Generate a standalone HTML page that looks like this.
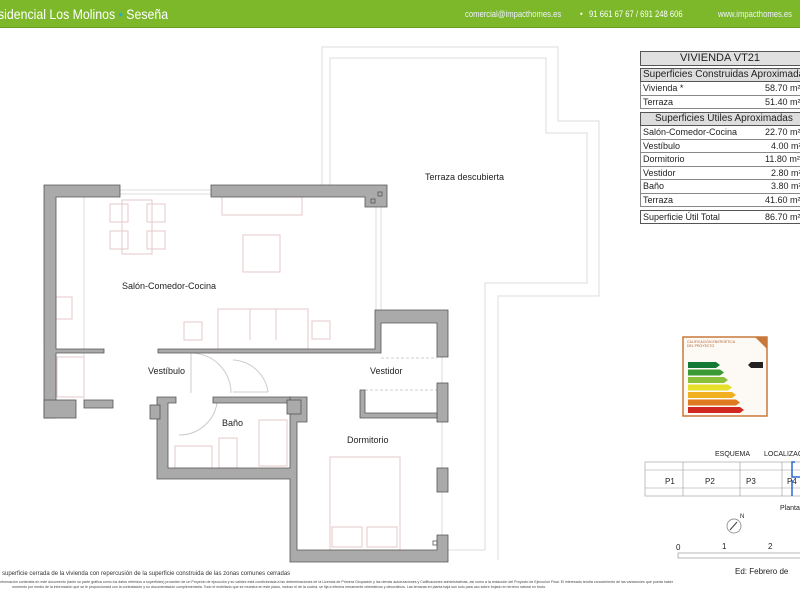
<!DOCTYPE html>
<html><head><meta charset="utf-8"><style>
body{margin:0;width:800px;height:600px;overflow:hidden;background:#fff;font-family:"Liberation Sans",sans-serif;position:relative}
.t{position:absolute;font-size:9px;color:#222;white-space:nowrap}
.r{height:12.5px;border:1px solid #888;border-top:0;line-height:12px;padding:0 2px;position:relative;white-space:nowrap;overflow:hidden}
.r span{position:absolute;left:124px}
.r span.s{left:130px}
</style></head><body>
<div style="position:absolute;left:0;top:0;width:800px;height:27px;background:#7cb82a;border-bottom:1px solid #6aa020"></div>
<div class="t" style="left:-2px;top:6px;font-size:14px;color:#fff;transform:scaleX(0.88);transform-origin:0 0">sidencial Los Molinos <span style="color:#2aa8e0">•</span> Seseña</div>
<div class="t" style="left:465px;top:9px;font-size:9px;color:#eef;transform:scaleX(0.85);transform-origin:0 0">comercial@impacthomes.es</div>
<div class="t" style="left:580px;top:9px;font-size:9px;color:#fff;transform:scaleX(0.85);transform-origin:0 0">•&nbsp;&nbsp; 91 661 67 67 / 691 248 606</div>
<div class="t" style="left:718px;top:9px;font-size:9px;color:#eef;transform:scaleX(0.85);transform-origin:0 0">www.impacthomes.es</div>

<svg width="800" height="600" style="position:absolute;left:0;top:0">
<g fill="none" stroke="#ddd" stroke-width="1">
<polyline points="322,185 322,47 558,47 558,121 599,121 599,296 498,296 498,560"/>
<polyline points="330,185 330,58 546,58 546,133 587,133 587,283 485,283 485,550 448,550"/>
<line x1="376" y1="207" x2="376" y2="310"/><line x1="381" y1="207" x2="381" y2="310"/>
<line x1="442" y1="357" x2="442" y2="535"/>
<line x1="120" y1="190" x2="211" y2="190"/><line x1="120" y1="194" x2="211" y2="194"/>
<line x1="84" y1="197" x2="84" y2="400"/>
</g>
<g fill="none" stroke="#e6caca" stroke-width="1">
<rect x="222" y="197" width="80" height="18"/>
<rect x="122" y="200" width="30" height="54"/>
<rect x="110" y="204" width="18" height="18"/><rect x="147" y="204" width="18" height="18"/>
<rect x="110" y="231" width="18" height="18"/><rect x="147" y="231" width="18" height="18"/>
<rect x="243" y="235" width="37" height="37"/>
<rect x="218" y="309" width="90" height="40"/>
<line x1="250" y1="309" x2="250" y2="340"/><line x1="276" y1="309" x2="276" y2="340"/>
<rect x="184" y="322" width="18" height="18"/><rect x="312" y="321" width="18" height="18"/>
<rect x="56" y="297" width="16" height="22"/>
<rect x="57" y="357" width="27" height="40"/>
<rect x="175" y="446" width="37" height="22"/>
<rect x="219" y="438" width="18" height="30"/>
<rect x="259" y="420" width="28" height="46"/>
<rect x="330" y="457" width="70" height="93"/>
<rect x="332" y="527" width="30" height="20"/><rect x="367" y="527" width="30" height="20"/>
</g>
<g fill="none" stroke="#ccc" stroke-width="1">
<path d="M191 353 A40 40 0 0 1 231 393"/><line x1="191" y1="353" x2="191" y2="393"/>
<path d="M217 403 A38 38 0 0 1 179 435"/>
<path d="M233 360 A37 37 0 0 1 268 392"/><line x1="233" y1="392" x2="268" y2="392"/>
<line x1="381" y1="358" x2="437" y2="358" stroke-dasharray="3,2"/>
<line x1="365" y1="390" x2="437" y2="390" stroke-dasharray="3,2"/>
</g>
<g fill="#aaa" stroke="#555" stroke-width="0.8">
<path d="M44 185 H120 V197 H56 V349 H104 V353 H56 V418 H44 Z"/>
<path d="M211 185 H387 V207 H365 V197 H211 Z"/>
<path d="M375 310 H448 V357 H437 V323 H381 V353 H158 V349 H375 Z"/>
<rect x="44" y="400" width="32" height="18"/>
<path d="M84 400 H113 V408 H84 Z"/>
<path d="M157 397 H176 V403 H168 V468 H290 V397 H307 V422 H297 V550 H437 V535 H448 V562 H290 V479 H157 Z"/>
<path d="M213 397 H290 V403 H213 Z"/>
<rect x="437" y="383" width="11" height="39"/>
<rect x="437" y="468" width="11" height="24"/>
<path d="M360 390 H365 V413 H437 V418 H360 Z"/>
<rect x="287" y="400" width="14" height="14"/>
<rect x="150" y="405" width="10" height="14"/>
</g>
<g fill="none" stroke="#555" stroke-width="0.8"><rect x="371" y="199" width="4" height="4"/><rect x="378" y="192" width="4" height="4"/><rect x="433" y="541" width="4" height="4"/></g>
</svg>

<div class="t" style="left:425px;top:172px">Terraza descubierta</div>
<div class="t" style="left:122px;top:281px">Salón-Comedor-Cocina</div>
<div class="t" style="left:148px;top:366px">Vestíbulo</div>
<div class="t" style="left:370px;top:366px">Vestidor</div>
<div class="t" style="left:222px;top:418px">Baño</div>
<div class="t" style="left:347px;top:435px">Dormitorio</div>

<div style="position:absolute;left:640px;top:51px;width:170px;font-size:9px;color:#222">
<div style="height:13px;background:#e0e0e0;border:1px solid #555;text-align:center;font-size:11px;line-height:13px;padding-right:10px">VIVIENDA VT21</div>
<div style="height:12px;background:#ddd;border:1px solid #555;margin-top:2px;font-size:10px;line-height:12px;padding-left:2px;white-space:nowrap;overflow:hidden">Superficies Construidas Aproximadas</div>
<div class="r">Vivienda *<span>58.70 m²</span></div>
<div class="r">Terraza<span>51.40 m²</span></div>
<div style="height:12px;background:#ddd;border:1px solid #555;margin-top:3px;font-size:10px;line-height:12px;padding-left:14px;white-space:nowrap;overflow:hidden">Superficies Útiles Aproximadas</div>
<div class="r">Salón-Comedor-Cocina<span>22.70 m²</span></div>
<div class="r">Vestíbulo<span class="s">4.00 m²</span></div>
<div class="r">Dormitorio<span>11.80 m²</span></div>
<div class="r">Vestidor<span class="s">2.80 m²</span></div>
<div class="r">Baño<span class="s">3.80 m²</span></div>
<div class="r">Terraza<span>41.60 m²</span></div>
<div class="r" style="border:1px solid #555;margin-top:3px;height:12px">Superficie Útil Total<span>86.70 m²</span></div>
</div>

<svg width="800" height="600" style="position:absolute;left:0;top:0">
<rect x="683" y="337" width="84" height="79" fill="#fdfaf5" stroke="#c8783a" stroke-width="1.5"/>
<polygon points="755,337 767,337 767,349" fill="#c8783a"/>
<text x="687" y="343" font-size="3.5" fill="#b06030" font-family="Liberation Sans">CALIFICACIÓN ENERGÉTICA</text>
<text x="687" y="347" font-size="3.5" fill="#b06030" font-family="Liberation Sans">DEL PROYECTO</text>
<g>
<polygon points="688,362 716,362 720,365 716,368 688,368" fill="#127a35"/>
<polygon points="688,369.5 720,369.5 724,372.5 720,375.5 688,375.5" fill="#3a9a35"/>
<polygon points="688,377 724,377 728,380 724,383 688,383" fill="#8ac03a"/>
<polygon points="688,384.5 728,384.5 732,387.5 728,390.5 688,390.5" fill="#e6e02a"/>
<polygon points="688,392 732,392 736,395 732,398 688,398" fill="#f0b020"/>
<polygon points="688,399.5 736,399.5 740,402.5 736,405.5 688,405.5" fill="#e07a20"/>
<polygon points="688,407 740,407 744,410 740,413 688,413" fill="#d02a20"/>
<polygon points="748,365 751,362 763,362 763,368 751,368" fill="#222"/>
</g>
<text x="715" y="456" font-size="7" fill="#222" font-family="Liberation Sans">ESQUEMA</text>
<text x="764" y="456" font-size="7" fill="#222" font-family="Liberation Sans">LOCALIZACIÓN</text>
<g fill="none" stroke="#999" stroke-width="0.6">
<rect x="645" y="462" width="160" height="34"/>
<line x1="645" y1="470" x2="805" y2="470"/><line x1="645" y1="488" x2="805" y2="488"/>
<line x1="683" y1="462" x2="683" y2="496"/><line x1="740" y1="462" x2="740" y2="496"/><line x1="782" y1="462" x2="782" y2="496"/>
</g>
<path d="M795 462 H792 V477 H800 M792 480 V496" fill="none" stroke="#2a6ad0" stroke-width="1.5"/>
<g font-size="8" fill="#222" font-family="Liberation Sans"><text x="665" y="484">P1</text><text x="705" y="484">P2</text><text x="746" y="484">P3</text><text x="787" y="484">P4</text></g>
<text x="780" y="510" font-size="7" fill="#222" font-family="Liberation Sans">Planta</text>
<circle cx="734" cy="526" r="7" fill="none" stroke="#999"/><line x1="730" y1="530" x2="737" y2="522" stroke="#444"/>
<text x="740" y="518" font-size="6" fill="#222" font-family="Liberation Sans">N</text>
<g font-size="8" fill="#222" font-family="Liberation Sans"><text x="676" y="550">0</text><text x="722" y="549">1</text><text x="768" y="549">2</text></g>
<rect x="678" y="553" width="130" height="5" fill="none" stroke="#888" stroke-width="0.6"/>
<text x="735" y="574" font-size="8" fill="#222" font-family="Liberation Sans">Ed: Febrero de</text>
</svg>
<div class="t" style="left:2px;top:571px;font-size:6px;color:#333">superficie cerrada de la vivienda con repercusión de la superficie construida de las zonas comunes cerradas</div>
<div class="t" style="left:0;top:580px;width:800px;overflow:hidden;font-size:3.6px;color:#444">nformación contenida en este documento (tanto su parte gráfica como los datos referidos a superficies) proceden de un Proyecto de ejecución y su validez está condicionada a las determinaciones de la Licencia de Primera Ocupación y las demás autorizaciones y Calificaciones administrativas, así como a la redacción del Proyecto de Ejecución Final. El interesado tendrá conocimiento de las variaciones que pueda haber</div>
<div class="t" style="left:12px;top:585px;width:788px;overflow:hidden;font-size:3.6px;color:#444">momento por medio de la información que se le proporcionará con la contratación y su documentación complementaria. Todo el mobiliario que se muestra en este plano, incluso el de la cocina, se fija a efectos meramente orientativos y decorativos. Las terrazas en planta baja son solo para uso sobre forjado en terreno natural en bruto.</div>
</body></html>
